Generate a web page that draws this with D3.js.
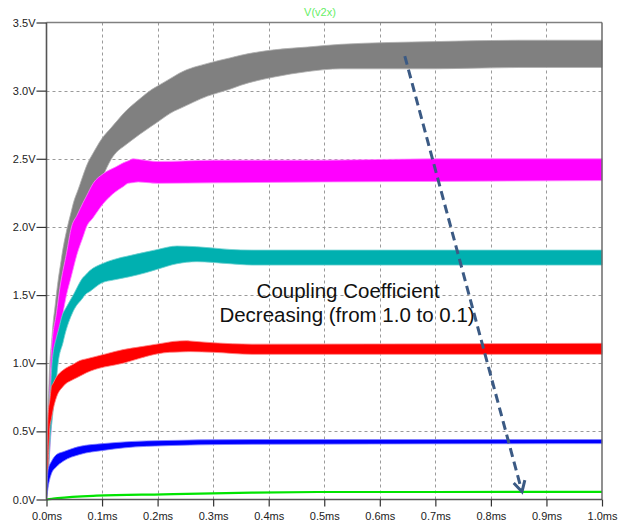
<!DOCTYPE html>
<html><head><meta charset="utf-8">
<script src="https://cdn.jsdelivr.net/npm/d3@7"></script>
<style>body{margin:0;background:#fff}svg{display:block}text{font-family:"Liberation Sans",Arial,sans-serif}</style>
</head><body>
<svg id="c" width="626" height="524"></svg>
<script>
// ---- data (time in ms, voltage in V) ----
const title = "V(v2x)";
const yTicks = [0, 0.5, 1.0, 1.5, 2.0, 2.5, 3.0, 3.5];
const xTicks = [0, 0.1, 0.2, 0.3, 0.4, 0.5, 0.6, 0.7, 0.8, 0.9, 1.0];

const grayUpper = [[0,0],[0.003,0.7],[0.006,1.0],[0.012,1.3],[0.02,1.58],[0.028,1.8],[0.036,1.97],[0.048,2.17],[0.06,2.31],[0.078,2.5],[0.1,2.65],[0.138,2.83],[0.168,2.94],[0.19,3.01],[0.24,3.13],[0.29,3.2],[0.35,3.26],[0.41,3.3],[0.47,3.32],[0.53,3.34],[0.7,3.36],[0.85,3.37],[1.0,3.37]];
const grayLower = [[0,0],[0.004,0.3],[0.009,0.9],[0.015,1.2],[0.027,1.5],[0.045,1.82],[0.057,2.0],[0.08,2.2],[0.1,2.36],[0.117,2.5],[0.129,2.56],[0.168,2.68],[0.2,2.77],[0.23,2.85],[0.29,2.96],[0.33,3.01],[0.35,3.04],[0.41,3.1],[0.47,3.14],[0.53,3.16],[0.7,3.16],[0.85,3.17],[1.0,3.17]];

const magentaUpper = [[0,0],[0.003,0.5],[0.009,1.1],[0.024,1.55],[0.045,2.0],[0.066,2.18],[0.084,2.32],[0.102,2.39],[0.138,2.47],[0.156,2.5],[0.2,2.48],[0.3,2.49],[0.5,2.49],[0.7,2.5],[1.0,2.5]];
const magentaLower = [[0,0],[0.005,0.3],[0.018,1.1],[0.036,1.5],[0.055,1.8],[0.072,2.0],[0.102,2.17],[0.125,2.26],[0.147,2.32],[0.165,2.33],[0.2,2.32],[0.5,2.33],[1.0,2.34]];

const tealUpper = [[0,0],[0.004,0.6],[0.01,1.0],[0.018,1.19],[0.03,1.37],[0.048,1.5],[0.066,1.63],[0.078,1.68],[0.1,1.73],[0.12,1.76],[0.15,1.79],[0.2,1.835],[0.235,1.86],[0.27,1.855],[0.33,1.835],[0.37,1.83],[0.6,1.83],[1.0,1.83]];
const tealLower = [[0,0],[0.008,0.5],[0.021,1.0],[0.032,1.19],[0.048,1.38],[0.069,1.5],[0.1,1.59],[0.12,1.61],[0.15,1.635],[0.18,1.665],[0.2,1.69],[0.235,1.73],[0.27,1.745],[0.33,1.73],[0.37,1.72],[1.0,1.72]];

const redUpper = [[0,0],[0.003,0.63],[0.009,0.83],[0.018,0.9],[0.03,0.95],[0.06,1.02],[0.108,1.07],[0.138,1.1],[0.168,1.12],[0.228,1.16],[0.252,1.165],[0.3,1.15],[0.37,1.14],[1.0,1.146]];
const redLower = [[0,0],[0.006,0.53],[0.012,0.66],[0.018,0.75],[0.03,0.83],[0.048,0.88],[0.072,0.93],[0.102,0.97],[0.138,1.0],[0.18,1.05],[0.222,1.08],[0.258,1.085],[0.3,1.08],[0.37,1.065],[1.0,1.065]];

const blueUpper = [[0,0],[0.003,0.22],[0.009,0.28],[0.018,0.33],[0.03,0.35],[0.06,0.39],[0.102,0.41],[0.18,0.43],[0.37,0.44],[1.0,0.44]];
const blueLower = [[0,0],[0.003,0.09],[0.009,0.19],[0.018,0.24],[0.03,0.28],[0.06,0.33],[0.102,0.36],[0.18,0.39],[0.37,0.405],[1.0,0.41]];

const greenLine = [[0,0],[0.01,0.005],[0.02,0.01],[0.09,0.028],[0.21,0.038],[0.37,0.05],[0.5,0.055],[0.7,0.055],[1.0,0.056]];

const annotationLines = ["Coupling Coefficient", "Decreasing (from 1.0 to 0.1)"];
const annotationPos = [[0.543, 1.476], [0.541, 1.305]];
const arrowFromTo = [[0.645, 3.254], [0.856, 0.057]];

// ---- drawing ----
const svg = d3.select("#c");
const M = {l:46.5, r:602, t:22.5, b:499.5};
const x = d3.scaleLinear().domain([0,1]).range([M.l, M.r]);
const y = d3.scaleLinear().domain([0,3.5]).range([M.b, M.t]);

// grid
const grid = svg.append("g").attr("stroke","#9a9a9a").attr("stroke-width",1).attr("stroke-dasharray","3,3");
xTicks.slice(1,-1).forEach(t=>grid.append("line").attr("x1",Math.round(x(t))+0.5).attr("x2",Math.round(x(t))+0.5).attr("y1",M.t).attr("y2",M.b));
yTicks.slice(1,-1).forEach(v=>grid.append("line").attr("y1",Math.round(y(v))+0.5).attr("y2",Math.round(y(v))+0.5).attr("x1",M.l).attr("x2",M.r));

function merge(up, lo){
  const ts = Array.from(new Set(up.map(d=>d[0]).concat(lo.map(d=>d[0])))).sort((a,b)=>a-b);
  const iu = d3.scaleLinear().domain(up.map(d=>d[0])).range(up.map(d=>d[1]));
  const il = d3.scaleLinear().domain(lo.map(d=>d[0])).range(lo.map(d=>d[1]));
  return ts.map(t=>({t, u:iu(t), l:il(t)}));
}
const area = d3.area().x(d=>x(d.t)).y0(d=>y(d.l)).y1(d=>y(d.u)).curve(d3.curveMonotoneX);

const bands = [
  {up:grayUpper, lo:grayLower, c:"#808080", e:"#b0b0b0"},
  {up:magentaUpper, lo:magentaLower, c:"#ff00ff", e:"#ff80ff"},
  {up:tealUpper, lo:tealLower, c:"#00b0b0", e:"#70d0d0"},
  {up:redUpper, lo:redLower, c:"#ff0000", e:"#ff8080"},
  {up:blueUpper, lo:blueLower, c:"#0000ff", e:"#8080ff"}
];
const gB = svg.append("g");
bands.forEach(b=>{
  gB.append("path").attr("d", area(merge(b.up,b.lo))).attr("fill",b.c).attr("stroke",b.e).attr("stroke-width",0.8);
});
gB.append("path").datum(greenLine)
  .attr("d", d3.line().x(d=>x(d[0])).y(d=>y(d[1])).curve(d3.curveMonotoneX))
  .attr("fill","none").attr("stroke","#00e400").attr("stroke-width",2.2);

// frame
svg.append("line").attr("x1",M.l).attr("x2",M.r).attr("y1",M.t).attr("y2",M.t).attr("stroke","#808080").attr("stroke-width",1.6);
svg.append("line").attr("x1",M.r).attr("x2",M.r).attr("y1",M.t).attr("y2",M.b).attr("stroke","#606060").attr("stroke-width",1.4);

// axes
const yAx = svg.append("g").attr("transform",`translate(${M.l},0)`)
  .call(d3.axisLeft(y).tickValues(yTicks).tickSize(10).tickPadding(1).tickFormat(d=>d3.format(".1f")(d)+"V"));
const xAx = svg.append("g").attr("transform",`translate(0,${M.b})`)
  .call(d3.axisBottom(x).tickValues(xTicks).tickSize(7).tickPadding(6).tickFormat(d=>d3.format(".1f")(d)+"ms"));
[yAx,xAx].forEach(a=>{
  a.select(".domain").attr("stroke","#555").attr("stroke-width",1.6);
  a.selectAll(".tick line").attr("stroke","#333").attr("stroke-width",1.2);
  a.selectAll(".tick text").attr("fill","#222").style("font-size","11px").style("font-family","Liberation Sans, Arial, sans-serif");
});
yAx.select(".domain").attr("d",`M0,${M.t}V${M.b}`);
xAx.select(".domain").attr("d",`M${M.l},0H${M.r}`);

// title
svg.append("text").attr("x",320).attr("y",16).attr("text-anchor","middle")
  .attr("fill","#66ee66").style("font-size","11px").text(title);

// annotation text
annotationLines.forEach((s,i)=>{
  svg.append("text").attr("x",x(annotationPos[i][0])).attr("y",y(annotationPos[i][1]))
    .attr("text-anchor","middle").attr("fill","#111").style("font-size","20.5px").text(s);
});

// arrow
const [p0,p1] = arrowFromTo.map(d=>[x(d[0]),y(d[1])]);
const ang = Math.atan2(p1[1]-p0[1], p1[0]-p0[0]);
const L = 12, spread = 0.5;
const arrowC = "#3b5a84";
svg.append("line").attr("x1",p0[0]).attr("y1",p0[1]).attr("x2",p1[0]-Math.cos(ang)*2).attr("y2",p1[1]-Math.sin(ang)*2)
  .attr("stroke",arrowC).attr("stroke-width",3).attr("stroke-dasharray","9,5");
svg.append("path").attr("d",
  `M${p1[0]-L*Math.cos(ang-spread)},${p1[1]-L*Math.sin(ang-spread)}L${p1[0]},${p1[1]}L${p1[0]-L*Math.cos(ang+spread)},${p1[1]-L*Math.sin(ang+spread)}`)
  .attr("fill","none").attr("stroke",arrowC).attr("stroke-width",3).attr("stroke-linejoin","miter");
</script>
</body></html>
